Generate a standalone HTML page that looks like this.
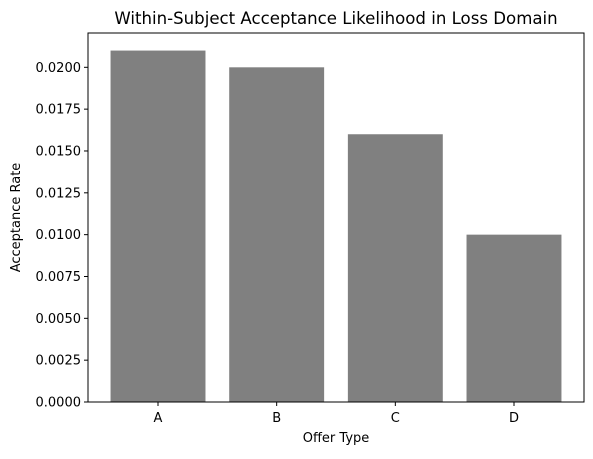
<!DOCTYPE html>
<html><head><meta charset="utf-8"><style>
body{margin:0;background:#fff;font-family:"DejaVu Sans","Liberation Sans",sans-serif;}
</style></head><body>
<svg id="chart" width="593" height="455" xmlns="http://www.w3.org/2000/svg" font-family="DejaVu Sans, Liberation Sans, sans-serif"></svg>
<script>
const categories = ["A","B","C","D"];
const values = [0.021, 0.020, 0.016, 0.010];
const yTicks = [0,0.0025,0.005,0.0075,0.01,0.0125,0.015,0.0175,0.02];
const yTickLabels = ["0.0000","0.0025","0.0050","0.0075","0.0100","0.0125","0.0150","0.0175","0.0200"];

const svg = document.getElementById('chart');
const NS = 'http://www.w3.org/2000/svg';
const L=88,R=584,T=33,B=402;
const yMax = Math.max(...values)*1.05;
const xMin=-0.59, xMax=categories.length-1+0.59;
const x = v => L + (v-xMin)/(xMax-xMin)*(R-L);
const y = v => B - v/yMax*(B-T);
function mk(tag, attrs, text){const e=document.createElementNS(NS,tag);for(const k in attrs)e.setAttribute(k,attrs[k]);if(text!==undefined)e.textContent=text;svg.appendChild(e);return e;}

values.forEach((v,i)=>{
  const r = mk('rect',{x:x(i-0.4),y:y(v),width:x(i+0.4)-x(i-0.4),height:B-y(v),fill:'#808080'});
  
  
});
const fr = mk('rect',{x:L,y:T,width:R-L,height:B-T,fill:'none',stroke:'#000','stroke-width':1});


yTicks.forEach((t,i)=>{
  mk('line',{x1:L-4,x2:L,y1:y(t),y2:y(t),stroke:'#000'});
  const tx = mk('text',{x:L-7,y:y(t)+4.5,'text-anchor':'end','font-size':13,fill:'#000'},yTickLabels[i]);
  
  
});
categories.forEach((c,i)=>{
  mk('line',{x1:x(i),x2:x(i),y1:B,y2:B+4,stroke:'#000'});
  const tx = mk('text',{x:x(i),y:B+20,'text-anchor':'middle','font-size':13,fill:'#000'},c);
  
  
});
const xt = mk('text',{x:(L+R)/2,y:442,'text-anchor':'middle','font-size':13,fill:'#000'},'Offer Type');


const yt = mk('text',{x:20,y:(T+B)/2,'text-anchor':'middle','font-size':13,fill:'#000',transform:'rotate(-90 20 '+((T+B)/2)+')'},'Acceptance Rate');


const ti = mk('text',{x:(L+R)/2,y:24,'text-anchor':'middle','font-size':16.6,fill:'#000'},'Within-Subject Acceptance Likelihood in Loss Domain');


</script>
</body></html>
